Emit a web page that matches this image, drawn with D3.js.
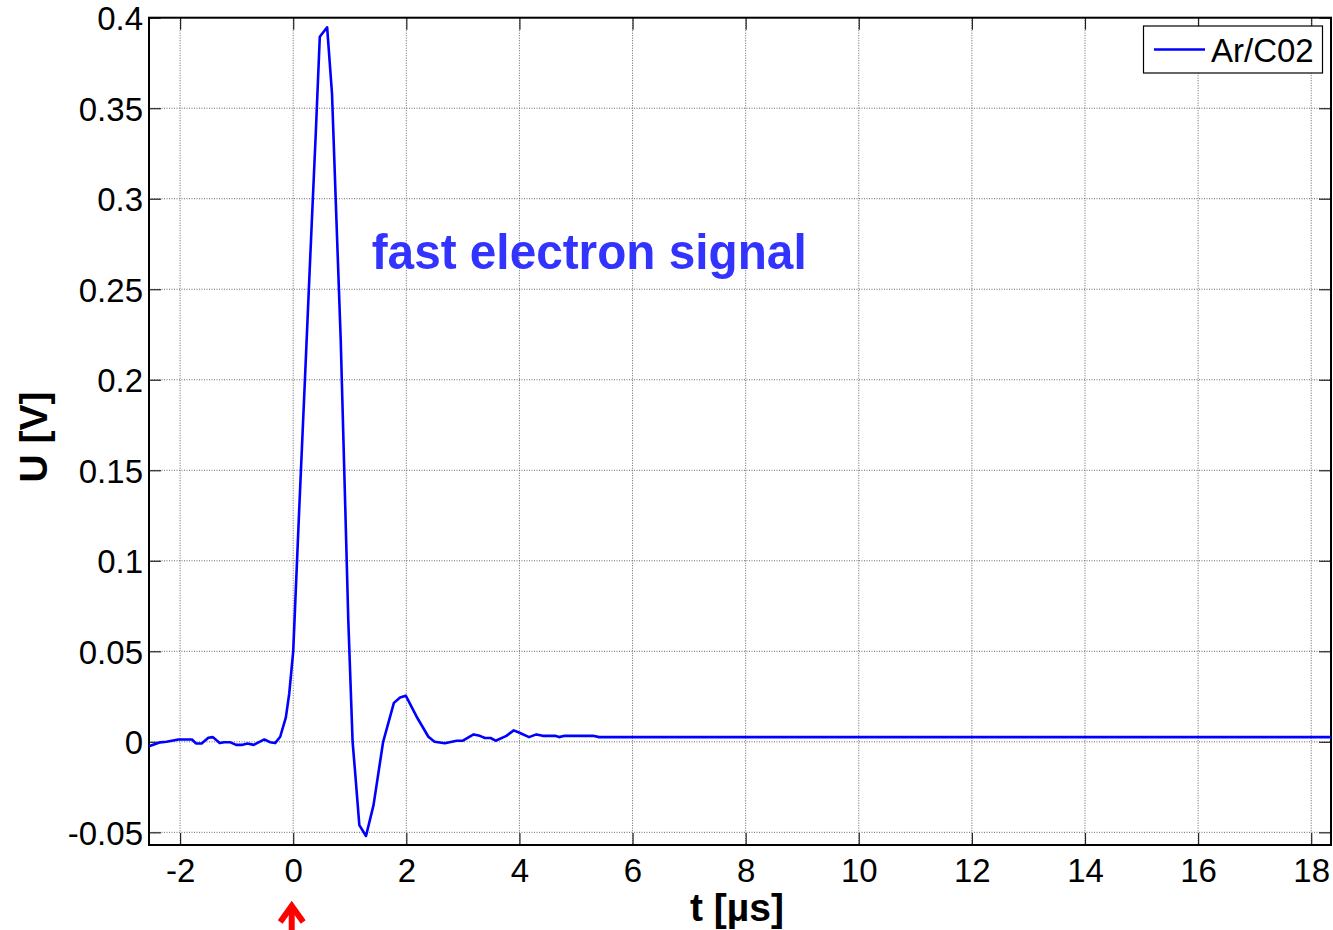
<!DOCTYPE html>
<html><head><meta charset="utf-8">
<script src="https://cdn.jsdelivr.net/npm/d3@7/dist/d3.min.js"></script>
<style>
html,body{margin:0;padding:0;background:#fff;}
svg{display:block;}
text{font-family:"Liberation Sans",Arial,Helvetica,sans-serif;}
</style></head>
<body>
<svg id="chart" width="1333" height="930"></svg>
<script>
const timeUs = [-2.55,-2.35,-2.24,-2.03,-1.79,-1.72,-1.62,-1.5,-1.42,-1.3,-1.22,-1.12,-1.01,-0.91,-0.81,-0.7,-0.51,-0.41,-0.32,-0.23,-0.13,-0.07,0.0,0.1,0.2,0.3,0.4,0.47,0.6,0.686,0.76,0.84,0.92,0.974,1.05,1.09,1.169,1.287,1.42,1.59,1.78,1.89,1.99,2.18,2.39,2.5,2.68,2.89,3.0,3.19,3.3,3.39,3.49,3.58,3.77,3.9,4.0,4.17,4.3,4.41,4.63,4.7,4.8,5.3,5.41,18.35];
const voltageV = [-0.0024,-0.0003,0,0.0013,0.0013,-0.0009,-0.0009,0.0022,0.0026,-0.0007,-0.0002,-0.0002,-0.0017,-0.0017,-0.0009,-0.0017,0.0013,-0.0002,-0.0007,0.0028,0.0135,0.0267,0.05,0.124,0.195,0.267,0.337,0.3895,0.3947,0.358,0.292,0.222,0.13,0.067,0.0,-0.015,-0.046,-0.052,-0.035,0.0,0.0215,0.0245,0.0255,0.014,0.0028,0.0,-0.0008,0.0006,0.0006,0.0041,0.0033,0.0021,0.0021,0.0006,0.0033,0.0063,0.005,0.0026,0.0041,0.0033,0.0033,0.0026,0.0033,0.0033,0.0026,0.0026];
const xTicks = [-2,0,2,4,6,8,10,12,14,16,18];
const xTickLabels = ["-2","0","2","4","6","8","10","12","14","16","18"];
const yTicks = [-0.05,0,0.05,0.1,0.15,0.2,0.25,0.3,0.35,0.4];
const yTickLabels = ["-0.05","0","0.05","0.1","0.15","0.2","0.25","0.3","0.35","0.4"];
const seriesName = "Ar/C02";
const annotation = "fast electron signal";
const xTitle = "t [µs]";
const yTitle = "U [V]";

const L = 149, R = 1331, T = 17.7, B = 845;
const x = d3.scaleLinear().domain([-2.55, 18.35]).range([L, R]);
const y = d3.scaleLinear().domain([-0.057, 0.4]).range([B, T]);

const svg = d3.select("#chart");

// grid
const grid = svg.append("g").attr("stroke", "#666").attr("stroke-width", 1).attr("stroke-dasharray", "1,1.5");
grid.selectAll(".vg").data(xTicks).join("line")
  .attr("x1", d => x(d)).attr("x2", d => x(d)).attr("y1", T).attr("y2", B);
grid.selectAll(".hg").data(yTicks).join("line")
  .attr("x1", L).attr("x2", R).attr("y1", d => y(d)).attr("y2", d => y(d));

// axes with inward ticks
const tl = 12;
const fmtX = d => xTickLabels[xTicks.indexOf(d)];
const fmtY = d => yTickLabels[yTicks.indexOf(d)];
const ax = svg.append("g").attr("transform", `translate(0,${B})`)
  .call(d3.axisBottom(x).tickValues(xTicks).tickSizeInner(-tl).tickSizeOuter(0).tickFormat(fmtX));
const axTop = svg.append("g").attr("transform", `translate(0,${T})`)
  .call(d3.axisTop(x).tickValues(xTicks).tickSizeInner(-tl).tickSizeOuter(0).tickFormat(""));
const ay = svg.append("g").attr("transform", `translate(${L},0)`)
  .call(d3.axisLeft(y).tickValues(yTicks).tickSizeInner(-tl).tickSizeOuter(0).tickPadding(7).tickFormat(fmtY));
const ayR = svg.append("g").attr("transform", `translate(${R},0)`)
  .call(d3.axisRight(y).tickValues(yTicks).tickSizeInner(-tl).tickSizeOuter(0).tickFormat(""));
[ax, axTop, ay, ayR].forEach(g => {
  g.select(".domain").remove();
  g.selectAll(".tick line").attr("stroke", "#222").attr("stroke-width", 1.2);
  g.selectAll("text").attr("font-size", 33).attr("fill", "#000").attr("font-family", '"Liberation Sans",Arial,sans-serif');
});
ax.selectAll("text").attr("dy", "0").attr("y", 37);
ay.selectAll("text").attr("x", -6).attr("dy", "0.36em");

// frame
svg.append("rect").attr("x", L).attr("y", T).attr("width", R - L).attr("height", B - T)
  .attr("fill", "none").attr("stroke", "#000").attr("stroke-width", 2);

// line
const clipId = "plotclip";
svg.append("clipPath").attr("id", clipId).append("rect").attr("x", L).attr("y", T).attr("width", R - L).attr("height", B - T);
const pts = timeUs.map((t, i) => [t, voltageV[i]]);
svg.append("path").datum(pts)
  .attr("clip-path", `url(#${clipId})`)
  .attr("fill", "none").attr("stroke", "#0000ff").attr("stroke-width", 2.6).attr("stroke-linejoin", "round")
  .attr("d", d3.line().x(d => x(d[0])).y(d => y(d[1])));

// annotation
svg.append("text").attr("x", 371.7).attr("y", 269).attr("font-size", 50).attr("font-weight", "bold")
  .attr("fill", "#3333ff").attr("textLength", 435).attr("lengthAdjust", "spacingAndGlyphs").text(annotation);

// legend
const lg = svg.append("g");
lg.append("rect").attr("x", 1143.5).attr("y", 26).attr("width", 179).attr("height", 47)
  .attr("fill", "#fff").attr("stroke", "#000").attr("stroke-width", 1.2);
lg.append("line").attr("x1", 1154).attr("x2", 1205).attr("y1", 49.5).attr("y2", 49.5)
  .attr("stroke", "#0000ff").attr("stroke-width", 2.6);
lg.append("text").attr("x", 1211).attr("y", 62).attr("font-size", 33).attr("fill", "#000").text(seriesName);

// axis titles
svg.append("text").attr("x", 737).attr("y", 921).attr("text-anchor", "middle")
  .attr("font-size", 39).attr("font-weight", "bold").text(xTitle);
svg.append("text").attr("transform", "translate(47,437) rotate(-90)").attr("text-anchor", "middle")
  .attr("font-size", 39).attr("font-weight", "bold").text(yTitle);

// red arrow marking t = 0
const ar = svg.append("g").attr("stroke", "#ff0000").attr("fill", "none").attr("stroke-width", 6);
ar.append("line").attr("x1", x(0) - 1.5).attr("x2", x(0) - 1.5).attr("y1", 906).attr("y2", 935);
ar.append("path").attr("d", `M${x(0) - 13},922 L${x(0) - 1.5},906 L${x(0) + 10},922`).attr("stroke-linejoin", "miter");
</script>
</body></html>
